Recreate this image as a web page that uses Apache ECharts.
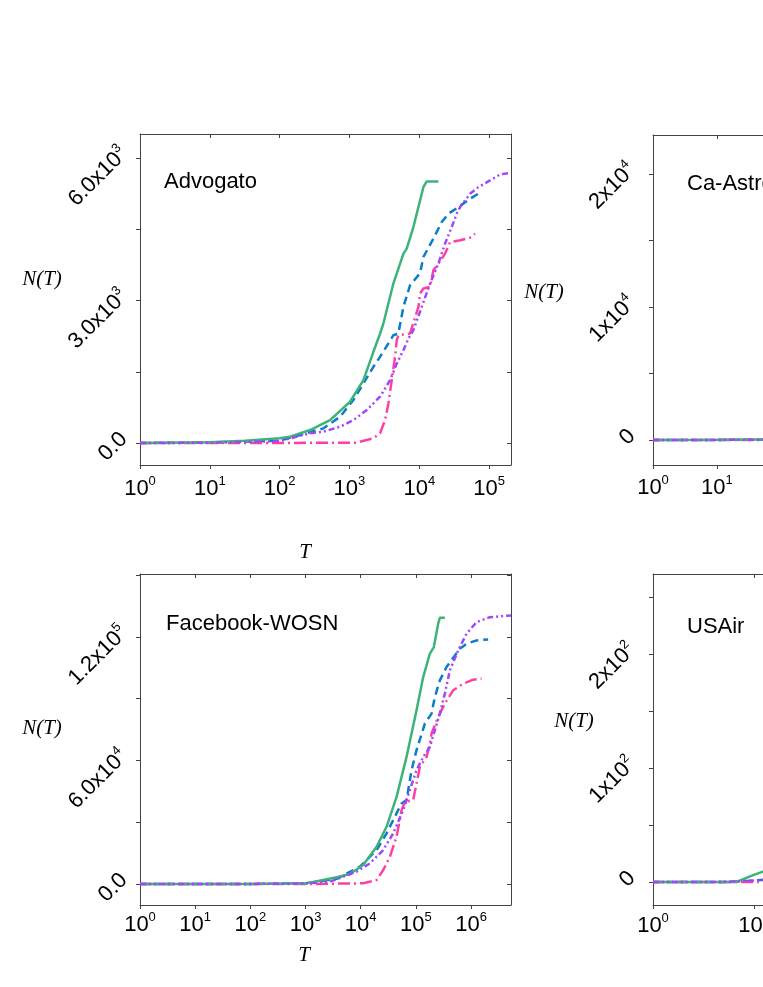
<!DOCTYPE html>
<html>
<head>
<meta charset="utf-8">
<script src="https://cdn.jsdelivr.net/npm/echarts@6/dist/echarts.min.js"></script>
<style>
html, body { margin: 0; padding: 0; background: #fff; overflow: hidden; }
#main { width: 1150px; height: 987px; }
</style>
</head>
<body>
<div id="main"></div>
<script>
// ---- Advogato ----
const advT_green  = [1, 10, 32, 100, 141, 273, 527, 1021, 1585, 2203, 2742, 3062, 4256, 5929, 6607, 8241, 9727, 11455, 12794, 18793];
const advN_green  = [0, 15, 48, 100, 133, 273, 483, 868, 1324, 1920, 2300, 2516, 3357, 3987, 4092, 4547, 4967, 5387, 5507, 5507];
const advT_blue   = [1, 10, 100, 196, 424, 733, 1138, 1585, 2203, 2742, 3614, 4256, 5012, 5929, 7379, 10257, 11455, 15922, 20989, 26182, 36392, 53456, 74302];
const advN_blue   = [0, 10, 50, 168, 309, 553, 904, 1255, 1604, 1814, 2096, 2270, 2300, 2865, 3321, 3573, 3916, 4303, 4652, 4828, 4967, 5144, 5270];
const advT_pink   = [1, 10, 100, 1000, 1259, 2203, 2742, 3236, 3614, 4036, 4498, 4764, 5012, 5309, 7379, 9727, 10257, 11455, 14289, 15922, 18793, 23442, 27606, 38459, 53456, 63096];
const advN_pink   = [0, 0, 2, 5, 8, 99, 204, 483, 834, 1324, 1814, 2165, 2270, 2306, 2306, 2865, 3146, 3252, 3286, 3637, 3777, 3987, 4231, 4267, 4323, 4407];
const advT_purple = [1, 10, 100, 141, 273, 424, 733, 1138, 1770, 2742, 3819, 4764, 5929, 6998, 8241, 10839, 14289, 18793, 23442, 29174, 34434, 38459, 53456, 70307, 103276, 143880, 206000];
const advN_purple = [0, 5, 40, 99, 204, 238, 343, 483, 694, 974, 1324, 1675, 1955, 2200, 2375, 2865, 3357, 3777, 4198, 4547, 4828, 4967, 5249, 5387, 5528, 5654, 5690];
const advYTicks = [0, 1500, 3000, 4500, 6000];
const advYLabelVals = [0, 3000, 6000];
const advYLabelText = ['0.0', '3.0x10^3', '6.0x10^3'];

// ---- Ca-AstroPh (only the visible start) ----
const astroT_green  = [1, 10, 60];
const astroN_green  = [0, 10, 40];
const astroT_blue   = [1, 10, 60];
const astroN_blue   = [0, 5, 30];
const astroT_pink   = [1, 60];
const astroN_pink   = [0, 0];
const astroT_purple = [1, 10, 60];
const astroN_purple = [0, 5, 30];
const astroYTicks = [0, 5000, 10000, 15000, 20000];
const astroYLabelVals = [0, 10000, 20000];
const astroYLabelText = ['0', '1x10^4', '2x10^4'];

// ---- Facebook-WOSN ----
const fbT_green  = [1, 10, 100, 1000, 1380, 3656, 6368, 11117, 19409, 29444, 44668, 67764, 102802, 135831, 179473, 211836, 253513, 272270, 334965];
const fbN_green  = [0, 0, 50, 400, 1000, 3250, 4850, 9215, 18090, 27790, 42340, 61740, 84390, 100540, 111890, 115100, 126450, 129350, 129350];
const fbT_blue   = [1, 10, 100, 1000, 3656, 9683, 19409, 29444, 44668, 55081, 67764, 83560, 102802, 145546, 192309, 220800, 272270, 359749, 626614, 827942, 1258925, 2041738];
const fbN_blue   = [0, 0, 30, 300, 2500, 8410, 16490, 24590, 34290, 39140, 40740, 55290, 64990, 77940, 82790, 90840, 98940, 105390, 114310, 116740, 118340, 118830];
const fbT_pink   = [1, 100, 1000, 11117, 19409, 25586, 33806, 44668, 55081, 63241, 89331, 102802, 118032, 156315, 179473, 192309, 253513, 334965, 474242, 719449, 1091440, 1548817];
const fbN_pink   = [0, 0, 0, 340, 1940, 6790, 13240, 22940, 35890, 39920, 40740, 48840, 56890, 61740, 68240, 73090, 81140, 87640, 94090, 97340, 99280, 99760];
const fbT_purple = [1, 10, 100, 1000, 2767, 8414, 14689, 25586, 38815, 59020, 77804, 102802, 135831, 179473, 220800, 272270, 334965, 413048, 584790, 827942, 1258925, 2192805, 5300000];
const fbN_purple = [0, 0, 30, 250, 1115, 5965, 10040, 16490, 24590, 35890, 45590, 55290, 61740, 66590, 74690, 82790, 92490, 103790, 113490, 121590, 127220, 129640, 130460];
const fbYTicks = [0, 30000, 60000, 90000, 120000, 150000];
const fbYLabelVals = [0, 60000, 120000];
const fbYLabelText = ['0.0', '6.0x10^4', '1.2x10^5'];

// ---- USAir (only the visible start) ----
const usT_green  = [1, 2, 4, 6.7, 9.8, 13];
const usN_green  = [0, 0, 0, 0, 6, 10];
const usT_blue   = [1, 5, 9, 13];
const usN_blue   = [0, 0, 1, 2];
const usT_pink   = [1, 13];
const usN_pink   = [0, 0];
const usT_purple = [1, 5, 9, 13];
const usN_purple = [0, 0, 1, 2];
const usYTicks = [0, 50, 100, 150, 200, 250];
const usYLabelVals = [0, 100, 200];
const usYLabelText = ['0', '1x10^2', '2x10^2'];

const SANS = '"Liberation Sans", Arial, sans-serif';
const SERIF = '"Liberation Serif", "Times New Roman", serif';
const AXIS_COLOR = '#444';

const lineColors = { green: '#3cb478', blue: '#0a7dc8', pink: '#ff3fa4', purple: '#a046ff' };
const lineTypes = { green: 'solid', blue: [8, 5], pink: [12, 4, 2, 4], purple: [6, 3, 2, 3, 2, 3] };
const drawOrder = ['blue', 'pink', 'green', 'purple'];

const panels = [
    { name: 'Advogato', grid: { left: 140, top: 134, width: 371, height: 331 }, xMax: 206000, yMin: -463, yMax: 6505,
      yTicks: advYTicks, yLabelVals: advYLabelVals, yLabelText: advYLabelText, xMargin: 10, yMargin: 9,
      titlePos: [164, 171], ntPos: [42, 279], tPos: [305, 552],
      lines: { green: [advT_green, advN_green], blue: [advT_blue, advN_blue], pink: [advT_pink, advN_pink], purple: [advT_purple, advN_purple] } },
    { name: 'Ca-AstroPh', grid: { left: 653, top: 135, width: 371, height: 330 }, xMax: 631000, yMin: -1880, yMax: 22930,
      yTicks: astroYTicks, yLabelVals: astroYLabelVals, yLabelText: astroYLabelText, xMargin: 9, yMargin: 14,
      titlePos: [687, 173], ntPos: [544, 292], tPos: [818, 552],
      lines: { green: [astroT_green, astroN_green], blue: [astroT_blue, astroN_blue], pink: [astroT_pink, astroN_pink], purple: [astroT_purple, astroN_purple] } },
    { name: 'Facebook-WOSN', grid: { left: 140, top: 574, width: 371, height: 331 }, xMax: 5300000, yMin: -10200, yMax: 150600,
      yTicks: fbYTicks, yLabelVals: fbYLabelVals, yLabelText: fbYLabelText, xMargin: 6, yMargin: 9,
      titlePos: [166, 613], ntPos: [42, 728], tPos: [304, 955],
      lines: { green: [fbT_green, fbN_green], blue: [fbT_blue, fbN_blue], pink: [fbT_pink, fbN_pink], purple: [fbT_purple, fbN_purple] } },
    { name: 'USAir', grid: { left: 653, top: 574, width: 371, height: 331 }, xMax: 4700, yMin: -20.2, yMax: 270.2,
      yTicks: usYTicks, yLabelVals: usYLabelVals, yLabelText: usYLabelText, xMargin: 7, yMargin: 14,
      titlePos: [687, 616], ntPos: [574, 721], tPos: [818, 955],
      lines: { green: [usT_green, usN_green], blue: [usT_blue, usN_blue], pink: [usT_pink, usN_pink], purple: [usT_purple, usN_purple] } }
];

const rich = {
    b: { fontSize: 22, lineHeight: 27, fontFamily: SANS, color: '#000' },
    s: { fontSize: 13, lineHeight: 13, fontFamily: SANS, color: '#000', verticalAlign: 'top' }
};

function richLabel(text) {
    const parts = text.split('^');
    return parts.length > 1 ? `{b|${parts[0]}}{s|${parts[1]}}` : `{b|${parts[0]}}`;
}

function powerLabel(value) {
    const e = Math.log10(value);
    const r = Math.round(e);
    if (Math.abs(e - r) > 1e-6) return '';
    return richLabel('10^' + r);
}

function zip(xs, ys) {
    return xs.map((x, k) => [x, ys[k]]);
}

const option = { animation: false, backgroundColor: '#fff', grid: [], xAxis: [], yAxis: [], series: [], title: [], graphic: [] };

panels.forEach((p, i) => {
    option.grid.push(Object.assign({ show: false, outerBoundsMode: 'none' }, p.grid));

    const axisLine = { show: true, onZero: false, lineStyle: { color: AXIS_COLOR, width: 1 } };
    // bottom x axis with labels, top mirror with inner ticks
    option.xAxis.push({
        type: 'log', logBase: 10, min: 1, max: p.xMax, gridIndex: i, position: 'bottom',
        axisLine: axisLine, splitLine: { show: false }, minorTick: { show: false },
        axisTick: { show: true, inside: false, length: 4, lineStyle: { color: AXIS_COLOR } },
        axisLabel: { formatter: powerLabel, rich: rich, margin: p.xMargin, showMaxLabel: false, hideOverlap: false }
    });
    option.xAxis.push({
        type: 'log', logBase: 10, min: 1, max: p.xMax, gridIndex: i, position: 'top',
        axisLine: axisLine, splitLine: { show: false },
        axisTick: { show: true, inside: true, length: 4, lineStyle: { color: AXIS_COLOR } },
        axisLabel: { show: false }
    });
    // left y axis with rotated labels, right mirror with inner ticks
    option.yAxis.push({
        type: 'value', min: p.yMin, max: p.yMax, gridIndex: i, position: 'left',
        axisLine: axisLine, splitLine: { show: false },
        axisTick: { show: true, inside: false, length: 4, customValues: p.yTicks, lineStyle: { color: AXIS_COLOR } },
        axisLabel: {
            customValues: p.yLabelVals, rotate: 45, margin: p.yMargin, rich: rich, hideOverlap: false,
            padding: [0, 0, 20, 0],
            formatter: value => {
                const k = p.yLabelVals.indexOf(value);
                return k < 0 ? '' : richLabel(p.yLabelText[k]);
            }
        }
    });
    option.yAxis.push({
        type: 'value', min: p.yMin, max: p.yMax, gridIndex: i, position: 'right',
        axisLine: axisLine, splitLine: { show: false },
        axisTick: { show: true, inside: true, length: 4, customValues: p.yTicks, lineStyle: { color: AXIS_COLOR } },
        axisLabel: { show: false }
    });

    drawOrder.forEach(key => {
        const pair = p.lines[key];
        option.series.push({
            type: 'line', xAxisIndex: 2 * i, yAxisIndex: 2 * i,
            data: zip(pair[0], pair[1]),
            showSymbol: false, symbol: 'none', clip: true,
            lineStyle: { color: lineColors[key], width: 2.5, type: lineTypes[key], cap: 'butt' },
            itemStyle: { color: lineColors[key] }
        });
    });

    option.title.push({
        text: p.name, left: p.titlePos[0], top: p.titlePos[1], padding: 0,
        textStyle: { fontSize: 22, fontWeight: 'normal', fontFamily: SANS, color: '#000' }
    });

    option.graphic.push({
        type: 'text', x: p.ntPos[0], y: p.ntPos[1],
        style: { text: 'N(T)', font: 'italic 21px ' + SERIF, fill: '#000', textAlign: 'center', textVerticalAlign: 'middle' }
    });
    option.graphic.push({
        type: 'text', x: p.tPos[0], y: p.tPos[1],
        style: { text: 'T', font: 'italic 21px ' + SERIF, fill: '#000', textAlign: 'center', textVerticalAlign: 'middle' }
    });
});

const chart = echarts.init(document.getElementById('main'));
chart.setOption(option);
</script>
</body>
</html>
